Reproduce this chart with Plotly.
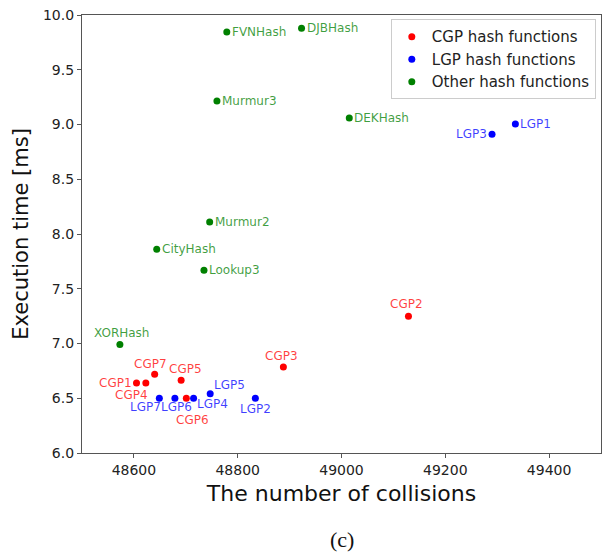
import plotly.graph_objects as go

cgp_names = ["CGP1", "CGP2", "CGP3", "CGP4", "CGP5", "CGP6", "CGP7"]
cgp_collisions = [48605, 49129, 48888, 48623, 48691, 48701, 48640]
cgp_time = [6.64, 7.25, 6.785, 6.64, 6.665, 6.50, 6.72]

lgp_names = ["LGP1", "LGP2", "LGP3", "LGP4", "LGP5", "LGP6", "LGP7"]
lgp_collisions = [49335, 48834, 49290, 48715, 48747, 48679, 48649]
lgp_time = [9.005, 6.50, 8.91, 6.50, 6.54, 6.50, 6.50]

other_names = ["FVNHash", "DJBHash", "Murmur3", "DEKHash", "Murmur2", "CityHash", "Lookup3", "XORHash"]
other_collisions = [48779, 48923, 48760, 49015, 48746, 48644, 48735, 48573]
other_time = [9.845, 9.88, 9.215, 9.06, 8.11, 7.86, 7.67, 6.99]

x_ticks = [48600, 48800, 49000, 49200, 49400]
y_ticks = [6.0, 6.5, 7.0, 7.5, 8.0, 8.5, 9.0, 9.5, 10.0]

# label placement: (xanchor, xshift px, yshift px)
label_style = {
    "CGP1": ("right", -4, 0), "CGP2": ("center", -2, 12), "CGP3": ("center", -2, 11),
    "CGP4": ("center", -14, -12), "CGP5": ("center", 4, 11), "CGP6": ("center", 6, -22),
    "CGP7": ("center", -4, 10),
    "LGP1": ("left", 4, 0), "LGP2": ("center", 0, -11), "LGP3": ("right", -4, 0),
    "LGP4": ("center", 19, -6), "LGP5": ("center", 19, 9), "LGP6": ("center", 2, -9),
    "LGP7": ("center", -14, -9),
    "FVNHash": ("left", 4, 0), "DJBHash": ("left", 4, 0), "Murmur3": ("left", 4, 0),
    "DEKHash": ("left", 4, 0), "Murmur2": ("left", 4, 0), "CityHash": ("left", 4, 0),
    "Lookup3": ("left", 4, 0), "XORHash": ("center", 2, 12),
}

series = [
    ("CGP hash functions", cgp_names, cgp_collisions, cgp_time, "#ff0000", "rgba(255,0,0,0.75)"),
    ("LGP hash functions", lgp_names, lgp_collisions, lgp_time, "#0000ff", "rgba(0,0,255,0.75)"),
    ("Other hash functions", other_names, other_collisions, other_time, "#008000", "rgba(0,128,0,0.75)"),
]

fig = go.Figure()
annotations = []
for name, labels, xs, ys, col, tcol in series:
    fig.add_trace(go.Scatter(
        x=xs, y=ys, mode="markers", name=name,
        marker=dict(color=col, size=7),
    ))
    for lab, xv, yv in zip(labels, xs, ys):
        anc, dx, dy = label_style[lab]
        annotations.append(dict(
            x=xv, y=yv, xref="x", yref="y", text=lab, showarrow=False,
            xanchor=anc, yanchor="middle", xshift=dx, yshift=dy, borderpad=0,
            font=dict(family="DejaVu Sans", size=12, color=tcol),
        ))

annotations.append(dict(
    text="(c)", x=0.5, y=0, xref="paper", yref="paper",
    xanchor="center", yanchor="middle", yshift=-86, showarrow=False,
    font=dict(family="Liberation Serif", size=22, color="#111111"),
))

fig.update_layout(
    width=604, height=552,
    margin=dict(l=82, r=3, t=15, b=99),
    plot_bgcolor="white", paper_bgcolor="white",
    font=dict(family="DejaVu Sans", color="#222222"),
    showlegend=True,
    legend=dict(
        x=0.99, y=0.99, xanchor="right", yanchor="top",
        bgcolor="rgba(255,255,255,0.8)", bordercolor="#cccccc", borderwidth=1,
        font=dict(size=15, color="#222222"),
        tracegroupgap=0,
    ),
    annotations=annotations,
)
fig.update_xaxes(
    range=[48500, 49500], tickvals=x_ticks, ticktext=[str(v) for v in x_ticks],
    showgrid=False, zeroline=False, showline=True, linecolor="#555555", linewidth=1.3, mirror=True,
    ticks="outside", ticklen=4, tickcolor="#555555", tickfont=dict(size=14),
    title=dict(text="The number of collisions", font=dict(size=22, color="#111111"), standoff=8),
)
fig.update_yaxes(
    range=[6.0, 10.0], tickvals=y_ticks, ticktext=[f"{v:.1f}" for v in y_ticks],
    showgrid=False, zeroline=False, showline=True, linecolor="#555555", linewidth=1.3, mirror=True,
    ticks="outside", ticklen=4, tickcolor="#555555", tickfont=dict(size=14),
    title=dict(text="Execution time [ms]", font=dict(size=21, color="#111111"), standoff=8),
)

fig.write_html("out.html")
